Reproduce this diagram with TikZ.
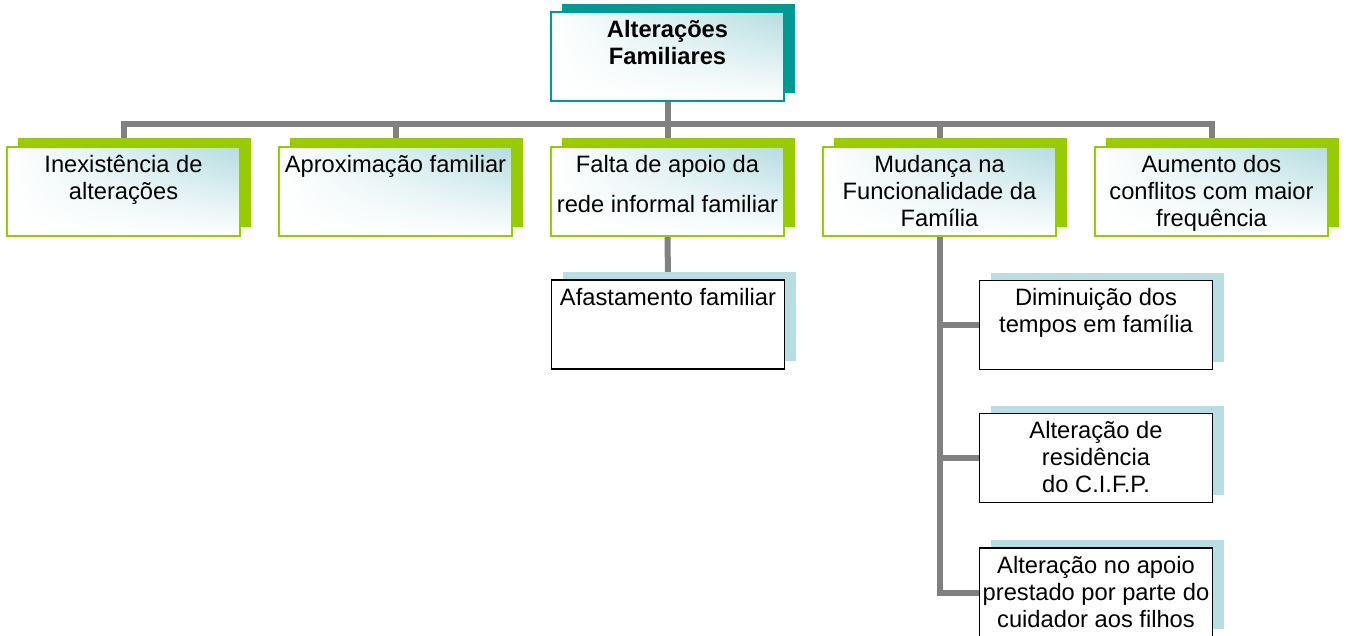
\documentclass[tikz,border=0pt]{standalone}
\usepackage{fontspec}
\setmainfont{Liberation Sans}
\usepackage{tikz}
\usetikzlibrary{shadows,shadings,backgrounds,positioning}
\definecolor{leaf}{HTML}{99CC00}
\definecolor{deepteal}{HTML}{009A95}
\definecolor{paleblue}{HTML}{B7DEE2}
\definecolor{mist}{HTML}{B4DCE0}
\definecolor{wire}{HTML}{808080}
\newcommand{\boxtext}[1]{\parbox[c][85pt][t]{229pt}{\centering\rule{0pt}{23pt}#1}}

\begin{document}
\begin{tikzpicture}[
  x=1pt,y=-1pt,
  font=\fontsize{23.7}{27}\selectfont,
  card/.style={minimum width=233pt,minimum height=89pt,inner sep=2pt},
  rootbox/.style={card,draw=deepteal,line width=1.5pt,
    upper right=mist,upper left=white,lower left=white,lower right=white,
    general shadow={fill=deepteal,shadow xshift=11pt,shadow yshift=8pt}},
  topic/.style={card,draw=leaf,line width=1.5pt,
    upper right=mist,upper left=white,lower left=white,lower right=white,
    general shadow={fill=leaf,shadow xshift=11pt,shadow yshift=9pt}},
  detail/.style={card,draw=black,line width=1.5pt,fill=white,
    general shadow={fill=paleblue,shadow xshift=11pt,shadow yshift=8pt}},
  wire/.style={draw=wire,line width=6pt}
]
\useasboundingbox (0,0) rectangle (1346,635);
\node[rootbox] (root) at (667.5,56.5) {\boxtext{\bfseries Alterações\\Familiares}};
\node[topic] (none) at (123.5,191.5) {\boxtext{Inexistência de\\alterações}};
\node[topic] (closer) at (395.5,191.5) {\boxtext{Aproximação familiar}};
\node[topic] (support) at (667.5,191.5) {\boxtext{Falta de apoio da\\[13pt]rede informal familiar}};
\node[topic] (function) at (939.5,191.5) {\boxtext{Mudança na\\Funcionalidade da\\Família}};
\node[topic] (conflict) at (1211.5,191.5) {\boxtext{Aumento dos\\conflitos com maior\\frequência}};
\node[detail] (distance) at (668,324.5) {\boxtext{Afastamento familiar}};
\node[detail] (time) at (1096,325) {\boxtext{Diminuição dos\\tempos em família}};
\node[detail] (home) at (1096,458) {\boxtext{Alteração de\\residência\\do C.I.F.P.}};
\node[detail] (care) at (1096,592.5) {\boxtext{Alteração no apoio\\prestado por parte do\\cuidador aos filhos}};
\coordinate (bus) at (0,124);
\begin{scope}[on background layer]
\draw[wire] (none.north) -- (none.north |- bus) -- (conflict.north |- bus) -- (conflict.north);
\draw[wire] (root.south) -- (root.south |- bus);
\draw[wire] (closer.north |- bus) -- (closer.north);
\draw[wire] (support.north |- bus) -- (support.north);
\draw[wire] (function.north |- bus) -- (function.north);
\draw[wire] (support.south) -- (distance.north);
\draw[wire] (function.south) |- (care.west);
\draw[wire] (function.south |- time.west) -- (time.west);
\draw[wire] (function.south |- home.west) -- (home.west);
\end{scope}
\end{tikzpicture}
\end{document}
